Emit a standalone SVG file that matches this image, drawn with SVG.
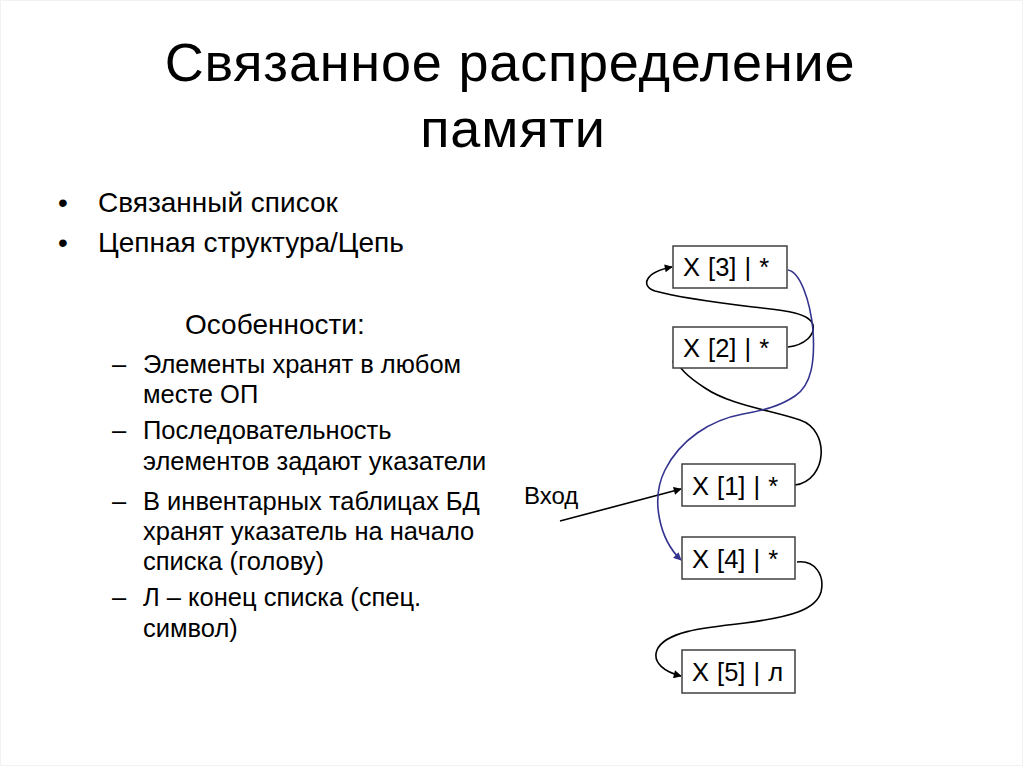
<svg xmlns="http://www.w3.org/2000/svg" width="1024" height="767" viewBox="0 0 1024 767">
<style>
text{font-family:"Liberation Sans",Arial,sans-serif;fill:#000}
.t{font-size:54px;letter-spacing:0.8px}
.b{font-size:28px}
.s{font-size:25.5px}
.n{font-size:25.5px;word-spacing:1px}
.e{font-size:24px}
.box{fill:#fff;stroke:#404040;stroke-width:1.5}
.c{fill:none;stroke:#000;stroke-width:1.6}
.blue{fill:none;stroke:#33338f;stroke-width:1.6}
</style>
<defs>
<marker id="ah" viewBox="0 0 10 10" refX="9" refY="5" markerWidth="10" markerHeight="8" markerUnits="userSpaceOnUse" orient="auto"><path d="M0,0 L10,5 L0,10 z" fill="#000"/></marker>
<marker id="ahb" viewBox="0 0 10 10" refX="9" refY="5" markerWidth="10" markerHeight="8" markerUnits="userSpaceOnUse" orient="auto"><path d="M0,0 L10,5 L0,10 z" fill="#33338f"/></marker>
</defs>
<rect width="1024" height="767" fill="#fff"/>
<rect x="0.5" y="0.5" width="1022" height="765" fill="none" stroke="#f2f2f2"/>
<g id="title">
<text class="t" x="510" y="81" text-anchor="middle">Связанное распределение</text>
<text class="t" x="513" y="147" text-anchor="middle">памяти</text>
</g>
<g id="bullets">
<text class="b" x="58" y="212">•</text>
<text class="b" x="98" y="212">Связанный список</text>
<text class="b" x="58" y="252">•</text>
<text class="b" x="98" y="252">Цепная структура/Цепь</text>
<text class="b" x="185" y="334">Особенности:</text>
<text class="s" x="112" y="373">–</text>
<text class="s" x="143" y="373">Элементы хранят в любом</text>
<text class="s" x="143" y="403">месте ОП</text>
<text class="s" x="112" y="439">–</text>
<text class="s" x="143" y="439">Последовательность</text>
<text class="s" x="143" y="470">элементов задают указатели</text>
<text class="s" x="112" y="510">–</text>
<text class="s" x="143" y="510">В инвентарных таблицах БД</text>
<text class="s" x="143" y="540">хранят указатель на начало</text>
<text class="s" x="143" y="570">списка (голову)</text>
<text class="s" x="112" y="606">–</text>
<text class="s" x="143" y="606">Л – конец списка (спец.</text>
<text class="s" x="143" y="637">символ)</text>
</g>
<g id="entry-label"><text class="e" x="524" y="504">Вход</text></g>
<g id="connectors">
<path class="c" d="M560,521 L681,489" marker-end="url(#ah)"/>
<path class="c" d="M795,485 C828,480 830,430 800,420 C770,410 730,405 705,388 C688,377 678,368 674,355" marker-end="url(#ah)"/>
<path class="c" d="M788,347 C805,345 815,335 813,325 C810,312 780,310 753,307 C720,303 680,298 655,291 C640,286 645,272 672,267" marker-end="url(#ah)"/>
<path class="blue" d="M788,270 C800,272 810,300 813,330 C815,360 812,385 795,396 C780,406 765,410 743,414 C710,420 680,440 665,470 C650,500 660,540 681,560" marker-end="url(#ahb)"/>
<path class="c" d="M797,562 C815,560 825,575 821,592 C816,610 790,617 745,623 C700,628 665,632 657,650 C652,663 665,672 681,676" marker-end="url(#ah)"/>
</g>
<g id="node3"><rect class="box" x="673" y="246" width="114" height="42"/><text class="n" x="683" y="276">X [3] | *</text></g>
<g id="node2"><rect class="box" x="673" y="327" width="114" height="41"/><text class="n" x="683" y="357">X [2] | *</text></g>
<g id="node1"><rect class="box" x="682" y="464" width="113" height="42"/><text class="n" x="692" y="495">X [1] | *</text></g>
<g id="node4"><rect class="box" x="682" y="537" width="113" height="42"/><text class="n" x="692" y="568">X [4] | *</text></g>
<g id="node5"><rect class="box" x="682" y="650" width="113" height="43"/><text class="n" x="692" y="681">X [5] | л</text></g>
</svg>
